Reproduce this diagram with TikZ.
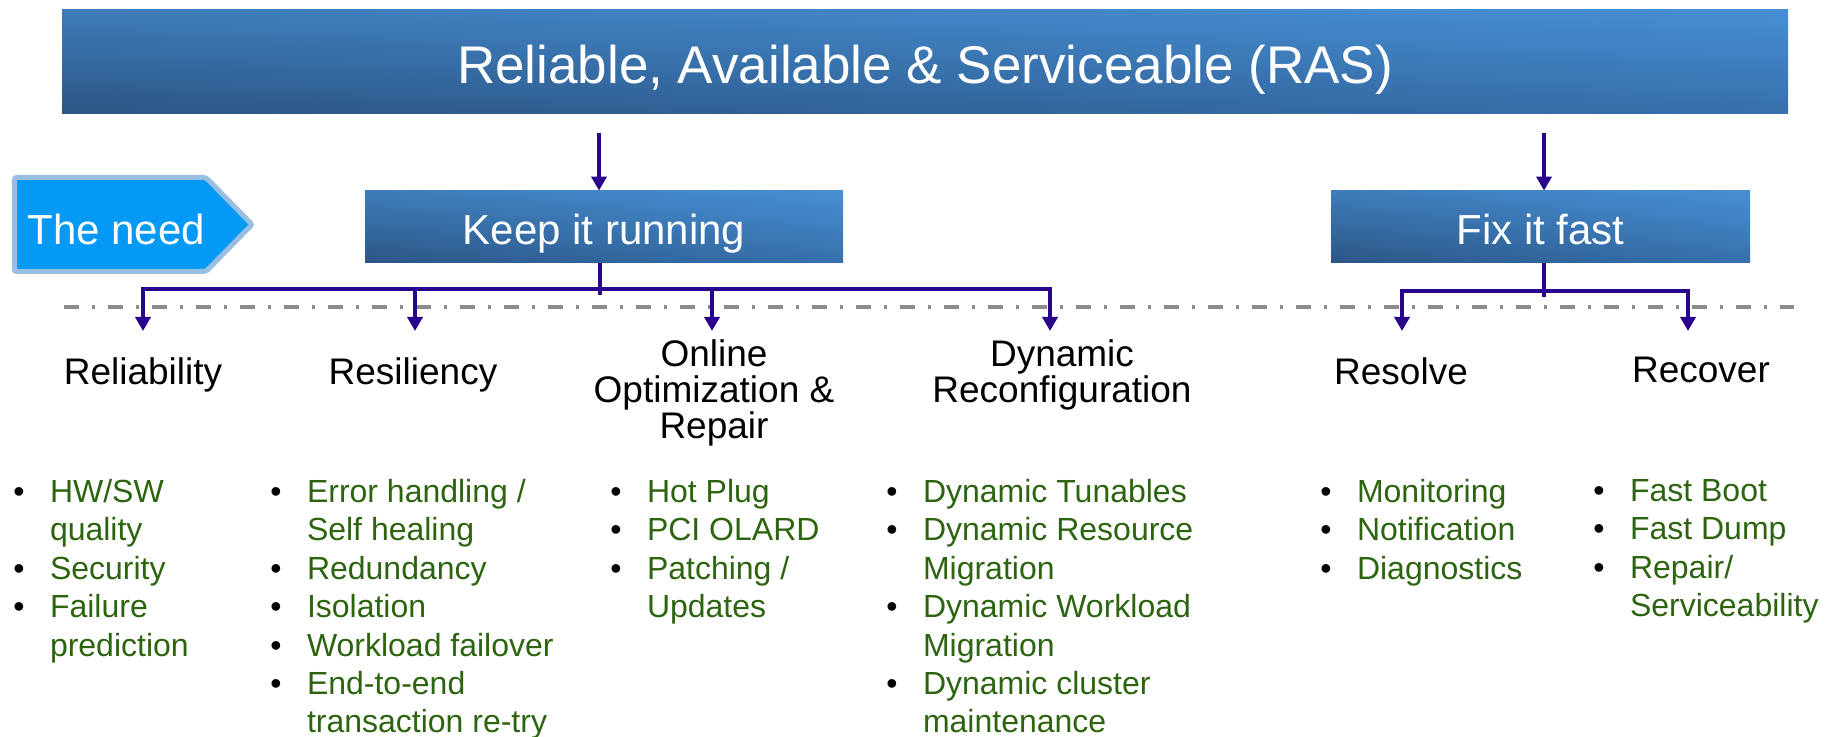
\documentclass[tikz,border=0pt]{standalone}
\usepackage{fontspec}
\setmainfont{Liberation Sans}
\usetikzlibrary{arrows.meta,shadings}
\definecolor{needfill}{RGB}{4,153,245}
\definecolor{needrim}{RGB}{152,190,226}
\definecolor{linkc}{RGB}{40,5,140}
\definecolor{sepgray}{RGB}{140,140,140}
\definecolor{itemgreen}{RGB}{45,100,15}
\definecolor{boxul}{RGB}{62,124,186}
\definecolor{boxur}{RGB}{70,143,212}
\definecolor{boxll}{RGB}{43,86,133}
\definecolor{boxlr}{RGB}{55,112,172}
\newcommand{\bul}{\makebox[18.3pt][l]{\textcolor{black}{\textbullet}}}
\newcommand{\ind}{\makebox[18.3pt]{}}

\begin{document}
\begin{tikzpicture}[x=0.5pt,y=-0.5pt,
  bluebox/.style={inner sep=0pt, text=white, text height=18pt,
    text depth=0pt, upper left=boxul, upper right=boxur,
    lower left=boxll, lower right=boxlr},
  conn/.style={draw=linkc, line width=1.8pt},
  arr/.style={conn, -{Triangle[width=7.5pt,length=7pt]}},
  sepline/.style={draw=sepgray, line width=2pt,
    dash pattern=on 7.5pt off 6.5pt on 1.5pt off 6.5pt},
  cat/.style={anchor=north, inner sep=0pt, align=center,
    font=\fontsize{18.5}{18}\selectfont},
  lst/.style={anchor=north west, inner sep=0pt, align=left,
    text=itemgreen, font=\fontsize{16}{19.2}\selectfont}]
  \useasboundingbox (0,0) rectangle (1835,737) ;

  \node[bluebox, minimum width=863pt, minimum height=52.25pt,
    text height=22.5pt, font=\fontsize{26.5}{30}\selectfont]
    (ras) at (925,61.5) {Reliable, Available \& Serviceable (RAS)} ;
  \node[bluebox, minimum width=239pt, minimum height=36pt,
    font=\fontsize{21}{24}\selectfont] (keep) at (604,227)
    {Keep it running} ;
  \node[bluebox, minimum width=209.5pt, minimum height=36pt,
    font=\fontsize{21}{24}\selectfont] (fix) at (1540.5,227)
    {Fix it fast} ;

  % the need
  \draw[needrim, fill=needfill, line width=2.5pt, rounded corners=1pt]
    (14.5,177.5) -- (206,177.5) -- (252,224.5) -- (206,271.5)
    -- (14.5,271.5) -- cycle ;
  \node[text=white, anchor=base west, inner sep=0pt,
    font=\fontsize{21}{24}\selectfont] (need) at (27,245) {The need} ;

  \draw[sepline] (64,307) -- (1794,307) ;

  \coordinate (rask) at (599,133) ;
  \coordinate (rasf) at (1544,133) ;
  \draw[arr] (rask) -- (rask |- keep.north) ;
  \draw[arr] (rasf) -- (rasf |- fix.north) ;

  \coordinate (kfork) at (600,289) ;
  \coordinate (ffork) at (1544,291) ;
  \coordinate (t-rel) at (143,331) ;
  \coordinate (t-res) at (415,331) ;
  \coordinate (t-onl) at (712,331) ;
  \coordinate (t-dyn) at (1050,331) ;
  \coordinate (t-slv) at (1402,331) ;
  \coordinate (t-rec) at (1688,331) ;
  \draw[conn] (keep.south -| kfork) -- ([yshift=-3pt]kfork) ;
  \draw[conn] (fix.south -| ffork) -- ([yshift=-3pt]ffork) ;
  \foreach \t in {t-rel,t-res,t-onl,t-dyn} {
    \draw[arr] (kfork) -| (\t) ;
  }
  \foreach \t in {t-slv,t-rec} {
    \draw[arr] (ffork) -| (\t) ;
  }

  \node[cat] (rel) at (143,357) {Reliability} ;
  \node[cat] (res) at (413,357) {Resiliency} ;
  \node[cat] (onl) at (714,339) {Online\\Optimization \&\\Repair} ;
  \node[cat] (dyn) at (1062,339) {Dynamic\\Reconfiguration} ;
  \node[cat] (slv) at (1401,357) {Resolve} ;
  \node[cat] (rec) at (1701,357) {Recover} ;

  \node[lst] (l-rel) at (13,479) {\bul HW/SW\\\ind quality\\\bul
    Security\\\bul Failure\\\ind prediction} ;
  \node[lst] (l-res) at (270,479) {\bul Error handling /\\\ind Self
    healing\\\bul Redundancy\\\bul Isolation\\\bul Workload
    failover\\\bul End-to-end\\\ind transaction re-try} ;
  \node[lst] (l-onl) at (610,479) {\bul Hot Plug\\\bul PCI
    OLARD\\\bul Patching /\\\ind Updates} ;
  \node[lst] (l-dyn) at (886,479) {\bul Dynamic Tunables\\\bul
    Dynamic Resource\\\ind Migration\\\bul Dynamic Workload\\\ind
    Migration\\\bul Dynamic cluster\\\ind maintenance} ;
  \node[lst] (l-slv) at (1320,479) {\bul Monitoring\\\bul
    Notification\\\bul Diagnostics} ;
  \node[lst] (l-rec) at (1593,479) {\bul Fast Boot\\\bul Fast
    Dump\\\bul Repair/\\\ind Serviceability} ;
\end{tikzpicture}
\end{document}
